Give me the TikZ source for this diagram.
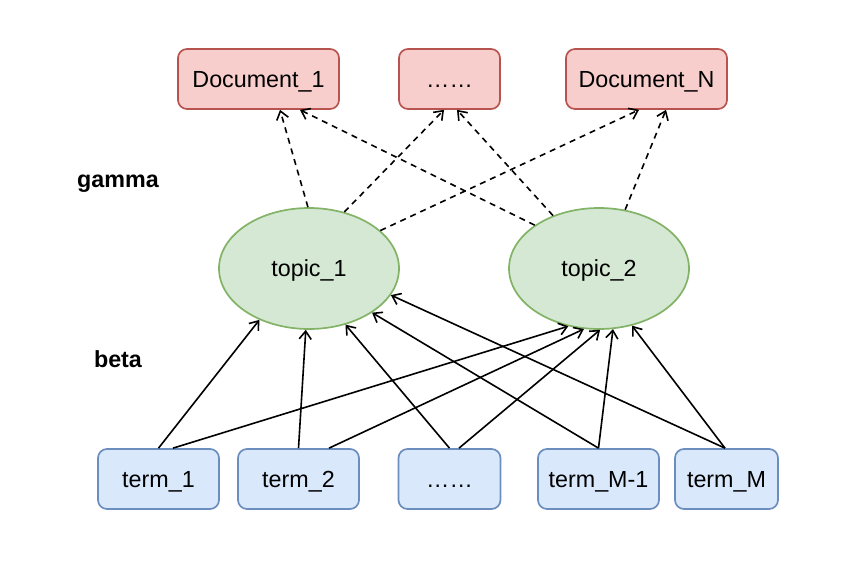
\documentclass[tikz,border=0pt]{standalone}
\usepackage{fontspec}
\setmainfont{Liberation Sans}
\usetikzlibrary{arrows.meta,shapes.geometric}
\definecolor{docfill}{HTML}{F8CECC}
\definecolor{docline}{HTML}{B85450}
\definecolor{topfill}{HTML}{D5E8D4}
\definecolor{topline}{HTML}{82B366}
\definecolor{termfill}{HTML}{DAE8FC}
\definecolor{termline}{HTML}{6C8EBF}
\tikzset{
  basefont/.style={font=\fontsize{23.3}{28}\selectfont, text height=21pt, text depth=4.2pt, inner sep=0pt},
  docbox/.style={basefont, rectangle, rounded corners=9pt, draw=docline, fill=docfill, line width=1.7pt, minimum height=60pt},
  termbox/.style={basefont, rectangle, rounded corners=9pt, draw=termline, fill=termfill, line width=1.7pt, minimum height=60pt},
  topicell/.style={basefont, ellipse, draw=topline, fill=topfill, line width=1.7pt, minimum width=180pt, minimum height=121pt},
  lbl/.style={font=\fontsize{23.3}{28}\selectfont\bfseries, inner sep=0pt, anchor=base},
  gedge/.style={line width=1.6pt, dash pattern=on 6pt off 5pt, -{Straight Barb[length=8pt,width=12pt]}},
  bedge/.style={line width=1.6pt, -{Straight Barb[length=8pt,width=12pt]}}
}
\begin{document}
\begin{tikzpicture}[x=1pt,y=-1pt]
\useasboundingbox (0,0) rectangle (842,562);
% documents
\node[docbox, minimum width=161pt] (d1) at (258.5,79) {Document\_1};
\node[docbox, minimum width=101pt] (dd) at (449.5,79) {……};
\node[docbox, minimum width=161pt] (dn) at (646.5,79) {Document\_N};
% topics
\node[topicell] (p1) at (309,268.5) {topic\_1};
\node[topicell] (p2) at (599,268.5) {topic\_2};
% terms
\node[termbox, minimum width=121pt] (t1) at (158.5,479) {term\_1};
\node[termbox, minimum width=121pt] (t2) at (298.5,479) {term\_2};
\node[termbox, minimum width=102pt] (td) at (449.5,479) {……};
\node[termbox, minimum width=121pt] (tm1) at (598.5,479) {term\_M-1};
\node[termbox, minimum width=103pt] (tm) at (726.5,479) {term\_M};
% labels
\node[lbl] (gam) at (118,187) {gamma};
\node[lbl] (bet) at (118,367) {beta};
% gamma edges
\draw[gedge] (p1.91) -- ([xshift=21.5pt]d1.south);
\draw[gedge] (p1.58) -- ([xshift=-5.5pt]dd.south);
\draw[gedge] (p1.28.5) -- ([xshift=-7.5pt]dn.south);
\draw[gedge] (p2.146.4) -- ([xshift=41.5pt]d1.south);
\draw[gedge] (p2.131.9) -- ([xshift=7.5pt]dd.south);
\draw[gedge] (p2.66.7) -- ([xshift=19.5pt]dn.south);
% beta edges
\draw[bedge] (t1.north) -- (p1.226.3);
\draw[bedge] ([xshift=14.5pt]t1.north) -- (p2.242.8);
\draw[bedge] (t2.north) -- (p1.267);
\draw[bedge] ([xshift=30.5pt]t2.north) -- (p2.256.8);
\draw[bedge] (td.north) -- (p1.303);
\draw[bedge] ([xshift=9.5pt]td.north) -- (p2.271);
\draw[bedge] (tm1.north) -- (p1.325.8);
\draw[bedge] (tm1.north) -- (p2.283.7);
\draw[bedge] ([xshift=-1.5pt]tm.north) -- (p1.342.2);
\draw[bedge] ([xshift=-1.5pt]tm.north) -- (p2.300.5);
\end{tikzpicture}
\end{document}
